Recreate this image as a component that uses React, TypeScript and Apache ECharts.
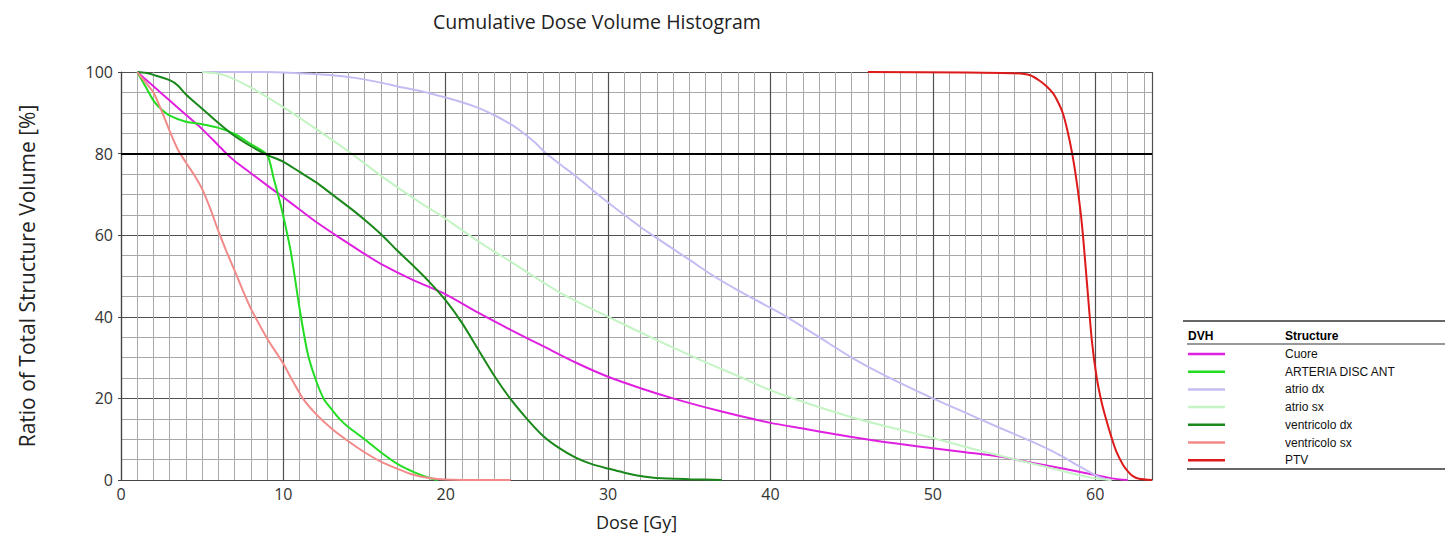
import React, { useEffect, useRef } from "react";
import * as echarts from "echarts";

// ---- Data (dose in Gy, volume in %) ----
const cuore: [number, number][] = [[1,100],[2,96.5],[3,93],[4,89.5],[5,86],[6,82],[6.5,80],[7,78.2],[8,75.2],[9,72.2],[10,69.3],[11,66.3],[12,63.3],[13,60.6],[14,58],[15,55.4],[16,53],[18,49],[20,45.5],[22,41],[24,36.8],[26,32.8],[28,28.8],[30,25.3],[32,22.5],[34,20],[36,17.8],[38,15.8],[40,14],[42,12.6],[44,11.2],[46,9.9],[48,8.8],[50,7.8],[52,6.8],[54,5.8],[56,4.3],[58,2.8],[60,1.2],[61,0.4],[62,0]];
const arteriaDiscAnt: [number, number][] = [[1,100],[1.5,96.5],[2,93],[2.5,90.8],[3,89.3],[4,87.8],[5,87.2],[6,86.3],[7,84.8],[8,82.3],[9,79.7],[9.4,74],[9.8,68],[10.2,61],[10.5,55],[11,42],[11.5,31],[12,24.5],[12.5,19.8],[13,17.2],[13.5,14.8],[14,13],[15,10],[16,6.8],[17,4],[18,2],[19,0.5],[19.5,0]];
const atrioDx: [number, number][] = [[5,100],[9,100],[11,99.7],[13,99.2],[14.5,98.5],[16,97.4],[17,96.5],[19,94.8],[21,92.6],[22,91.2],[23,89.4],[24,87.2],[24.8,85],[25.5,82.7],[26.2,80],[27,77.5],[28,74.5],[30,68],[32,62],[33,59.3],[35,54],[36.5,50],[38,46.5],[40,42.2],[41,40],[43,35],[45,30],[47,25.7],[50,20],[52,16.5],[54,13],[56,9.6],[57.2,7.4],[58,5.7],[59,3.4],[60,1.2],[60.5,0.4],[61,0]];
const atrioSx: [number, number][] = [[5,100],[6.3,99.3],[7.9,96.4],[10,91.4],[12.1,85.8],[14.3,79.7],[16.1,74.3],[18.2,68.6],[20,64],[22,58.5],[24,53.5],[27,46],[30,40],[33,34.3],[35.7,29.4],[38,25.5],[40,22],[42.5,18.5],[45,15.4],[47.5,12.8],[50,10.3],[52.5,7.6],[55.2,4.9],[57,3.2],[58,2.2],[59,1.2],[60,0.4],[61,0]];
const ventricoloDx: [number, number][] = [[1,100],[1.5,99.8],[2,99.3],[3,98],[3.5,96.7],[4,94.5],[5,91],[6,87.5],[7,84.3],[8,81.8],[9,79.7],[10,78],[11,75.5],[12,73],[13,70],[14,67],[15,63.8],[16,60.3],[17,56.3],[18,52.5],[19,48.5],[20,44],[21,38.5],[22,32],[23,25.5],[24,19.8],[25,15],[26,10.8],[27,7.8],[28,5.5],[29,3.9],[30,2.8],[31,1.8],[32,1],[33,0.5],[35,0.2],[37,0]];
const ventricoloSx: [number, number][] = [[1,100],[1.5,97.5],[2,95],[2.5,90.5],[3,85.5],[3.5,81],[4,77.8],[4.5,74.8],[5,71.3],[5.5,66.5],[6,61],[6.5,56],[7,51.3],[7.5,46.5],[8,42],[9,34.7],[10,28.5],[10.5,24.8],[11.2,20],[12,16.2],[13,12.5],[14,9.5],[15,6.8],[16,4.5],[17,2.8],[18,1.3],[19,0.5],[20,0.1],[21,0],[24,0]];
const ptv: [number, number][] = [[46,100],[52,99.9],[55,99.7],[56,99.2],[56.6,97.8],[57,96.5],[57.4,94.8],[57.7,92.7],[58,90],[58.3,85.5],[58.6,79.7],[58.9,72],[59.2,62],[59.5,48],[59.8,34],[60.1,25],[60.4,19],[60.7,14.5],[61,10.5],[61.3,7],[61.7,3.8],[62,2.2],[62.3,1],[62.7,0.3],[63.5,0]];

const structureNames = ["Cuore", "ARTERIA DISC ANT", "atrio dx", "atrio sx", "ventricolo dx", "ventricolo sx", "PTV"];
const structureData = [cuore, arteriaDiscAnt, atrioDx, atrioSx, ventricoloDx, ventricoloSx, ptv];
const structureColors = ["#e020e0", "#22dd22", "#c4bcf2", "#c4f4c4", "#1a881a", "#f28a8a", "#dd1a1a"];
const referenceVolume = 80;
const xTickInterval = 10;
const yTickInterval = 20;

const TITLE = "Cumulative Dose Volume Histogram";
const X_NAME = "Dose [Gy]";
const Y_NAME = "Ratio of Total Structure Volume [%]";

export default function App() {
  const ref = useRef<HTMLDivElement>(null);
  useEffect(() => {
    if (!ref.current) return;
    const chart = echarts.init(ref.current, undefined, { renderer: "svg" });
    const font = "'Open Sans', 'Noto Sans', sans-serif";
    const legendFont = "'Liberation Sans', Arial, sans-serif";
    const xMax = 63.5;

    const legendGraphics: any[] = [
      { type: "line", shape: { x1: 1183, y1: 321, x2: 1445, y2: 321 }, style: { stroke: "#333", lineWidth: 1.5 } },
      { type: "text", x: 1188, y: 336, style: { text: "DVH", font: `bold 12px ${legendFont}`, fill: "#000", textVerticalAlign: "middle" } },
      { type: "text", x: 1285, y: 336, style: { text: "Structure", font: `bold 12px ${legendFont}`, fill: "#000", textVerticalAlign: "middle" } },
      { type: "line", shape: { x1: 1187, y1: 344, x2: 1445, y2: 344 }, style: { stroke: "#333", lineWidth: 1.2 } },
      { type: "line", shape: { x1: 1187, y1: 469, x2: 1445, y2: 469 }, style: { stroke: "#333", lineWidth: 1.5 } },
    ];
    structureNames.forEach((n, i) => {
      const y = 354 + i * 17.7;
      legendGraphics.push({ type: "line", shape: { x1: 1188, y1: y, x2: 1225, y2: y }, style: { stroke: structureColors[i], lineWidth: 2.5 } });
      legendGraphics.push({ type: "text", x: 1285, y: y, style: { text: n, font: `12px ${legendFont}`, fill: "#111", textVerticalAlign: "middle" } });
    });

    const series: any[] = [
      {
        type: "line",
        data: [],
        xAxisIndex: 1,
        yAxisIndex: 1,
        z: 1,
        silent: true,
        markLine: {
          silent: true,
          symbol: ["none", "none"],
          label: { show: false },
          lineStyle: { color: "#000", width: 2, type: "solid" },
          data: [{ yAxis: referenceVolume }],
        },
      },
    ];
    structureNames.forEach((n, i) => {
      series.push({
        name: n,
        type: "line",
        data: structureData[i],
        xAxisIndex: 1,
        yAxisIndex: 1,
        showSymbol: false,
        smooth: 0.25,
        z: 3,
        lineStyle: { color: structureColors[i], width: 2 },
        itemStyle: { color: structureColors[i] },
      });
    });

    chart.setOption({
      animation: false,
      backgroundColor: "#fff",
      title: {
        text: TITLE,
        left: 428,
        top: 6,
        textStyle: { fontFamily: font, fontSize: 19.5, fontWeight: "normal", color: "#222" },
      },
      grid: { left: 121, right: 1445 - 1152, top: 72, bottom: 537 - 480, containLabel: false },
      xAxis: [
        {
          type: "value", position: "bottom", min: 0, max: xMax, interval: 1,
          axisLabel: { show: false }, axisTick: { show: false }, axisLine: { show: false },
          splitLine: { show: true, lineStyle: { color: "#a8a8a8", width: 1 } },
        },
        {
          type: "value", position: "bottom", min: 0, max: xMax, interval: xTickInterval,
          name: X_NAME, nameLocation: "middle", nameGap: 33,
          nameTextStyle: { fontFamily: font, fontSize: 18, color: "#222" },
          axisLabel: { fontFamily: font, fontSize: 16, color: "#333", margin: 6, showMaxLabel: false },
          axisTick: { show: false },
          axisLine: { show: true, onZero: false, lineStyle: { color: "#444", width: 1.2 } },
          splitLine: { show: true, lineStyle: { color: "#505050", width: 1.2 } },
        },
      ],
      yAxis: [
        {
          type: "value", position: "left", min: 0, max: 100, interval: 5,
          axisLabel: { show: false }, axisTick: { show: false }, axisLine: { show: false },
          splitLine: { show: true, lineStyle: { color: "#a8a8a8", width: 1 } },
        },
        {
          type: "value", position: "left", min: 0, max: 100, interval: yTickInterval,
          name: Y_NAME, nameLocation: "middle", nameGap: 84,
          nameTextStyle: { fontFamily: font, fontSize: 21, color: "#222" },
          axisLabel: { fontFamily: font, fontSize: 16, color: "#333", margin: 8 },
          axisTick: { show: true, length: 3, lineStyle: { color: "#444" } },
          axisLine: { show: true, onZero: false, lineStyle: { color: "#444", width: 1.2 } },
          splitLine: { show: true, lineStyle: { color: "#505050", width: 1.2 } },
        },
      ],
      graphic: legendGraphics,
      series,
    });
    return () => chart.dispose();
  }, []);
  return <div ref={ref} style={{ position: "fixed", left: 0, top: 0, width: 1445, height: 537 }} />;
}
